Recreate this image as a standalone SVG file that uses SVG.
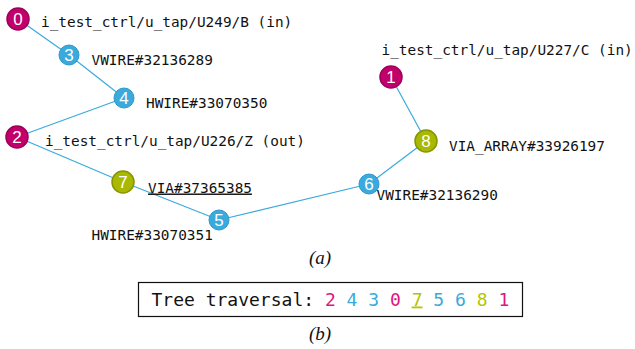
<svg xmlns="http://www.w3.org/2000/svg" width="635" height="349" viewBox="0 0 635 349">
<defs>
<style>
.lbl{font-family:"DejaVu Sans Mono","Liberation Mono",monospace;font-size:14.4px;fill:#111}
.num{font-family:"Liberation Sans",Arial,sans-serif;font-size:17px;fill:#fff;text-anchor:middle}
.mag{fill:#C2006C;stroke:#9E0058;stroke-width:1.5}
.blu{fill:#3AAADD;stroke:#2E98CC;stroke-width:1}
.oli{fill:#A9B800;stroke:#879400;stroke-width:1.5}
.edge{stroke:#3AAADD;stroke-width:1.2;fill:none}
.cap{font-family:"Liberation Serif","Times New Roman",serif;font-style:italic;font-size:19px;fill:#111;text-anchor:middle}
.trav{font-family:"DejaVu Sans Mono","Liberation Mono",monospace;font-size:18px}
</style>
</defs>
<rect width="635" height="349" fill="#fff"/>
<g id="connectors">
<line class="edge" x1="18" y1="19" x2="69" y2="55"/>
<line class="edge" x1="69" y1="55" x2="124" y2="98"/>
<line class="edge" x1="124" y1="98" x2="17" y2="137"/>
<line class="edge" x1="17" y1="137" x2="123" y2="182"/>
<line class="edge" x1="123" y1="182" x2="219" y2="220"/>
<line class="edge" x1="219" y1="220" x2="369" y2="184"/>
<line class="edge" x1="369" y1="184" x2="426" y2="141"/>
<line class="edge" x1="426" y1="141" x2="391" y2="77"/>
</g>
<g id="node0"><circle class="mag" cx="18" cy="19" r="11"/><text class="num" x="18" y="25">0</text>
<text class="lbl" x="41" y="27">i_test_ctrl/u_tap/U249/B (in)</text></g>
<g id="node3"><circle class="blu" cx="69" cy="55" r="10"/><text class="num" x="69" y="61">3</text>
<text class="lbl" x="91.5" y="65">VWIRE#32136289</text></g>
<g id="node4"><circle class="blu" cx="124" cy="98" r="10"/><text class="num" x="124" y="104">4</text>
<text class="lbl" x="146" y="108">HWIRE#33070350</text></g>
<g id="node2"><circle class="mag" cx="17" cy="137" r="11"/><text class="num" x="17" y="143">2</text>
<text class="lbl" x="45" y="146">i_test_ctrl/u_tap/U226/Z (out)</text></g>
<g id="node7"><circle class="oli" cx="123" cy="182" r="11"/><text class="num" x="123" y="188">7</text>
<text class="lbl" x="148" y="192.5" text-decoration="underline">VIA#37365385</text></g>
<g id="node5"><circle class="blu" cx="219" cy="220" r="10"/><text class="num" x="219" y="226">5</text>
<text class="lbl" x="91.5" y="240">HWIRE#33070351</text></g>
<g id="node6"><circle class="blu" cx="369" cy="184" r="10"/><text class="num" x="369" y="190">6</text>
<text class="lbl" x="376.5" y="200">VWIRE#32136290</text></g>
<g id="node8"><circle class="oli" cx="426" cy="141" r="11"/><text class="num" x="426" y="147">8</text>
<text class="lbl" x="449" y="150.5">VIA_ARRAY#33926197</text></g>
<g id="node1"><circle class="mag" cx="391" cy="77" r="11"/><text class="num" x="391" y="83">1</text>
<text class="lbl" x="381.5" y="55">i_test_ctrl/u_tap/U227/C (in)</text></g>
<text class="cap" x="320" y="264">(a)</text>
<rect x="138.5" y="282.5" width="384" height="34" fill="none" stroke="#111" stroke-width="1.2"/>
<text class="trav" x="151.5" y="305.5" xml:space="preserve"><tspan fill="#111">Tree traversal: </tspan><tspan fill="#E0157F">2</tspan> <tspan fill="#3AAADD">4</tspan> <tspan fill="#3AAADD">3</tspan> <tspan fill="#E0157F">0</tspan> <tspan fill="#B5C400" text-decoration="underline">7</tspan> <tspan fill="#3AAADD">5</tspan> <tspan fill="#3AAADD">6</tspan> <tspan fill="#B5C400">8</tspan> <tspan fill="#E0157F">1</tspan></text>
<text class="cap" x="320" y="340">(b)</text>
</svg>
